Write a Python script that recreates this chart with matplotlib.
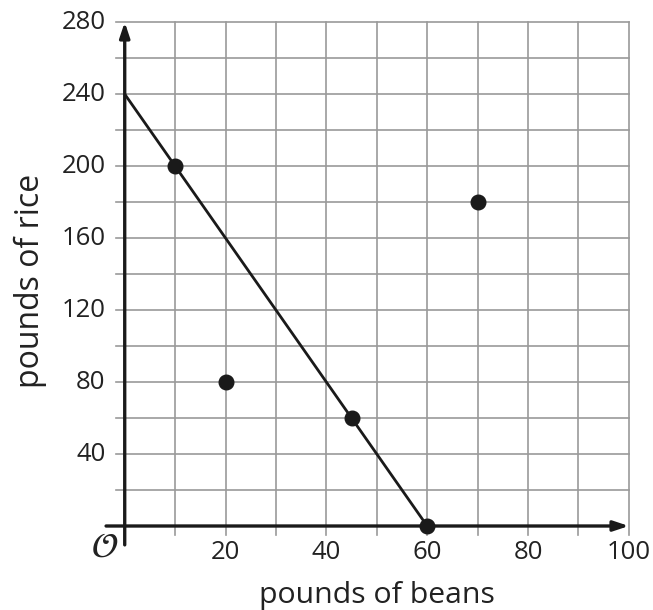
import matplotlib

matplotlib.use("Agg")
import matplotlib.pyplot as plt
import numpy as np

plt.rcParams["font.family"] = ["Open Sans", "DejaVu Sans"]

# data
beans = [10, 20, 45, 60, 70]
rice = [200, 80, 60, 0, 180]
line_x = [0, 60]
line_y = [240, 0]
x_ticks = [20, 40, 60, 80, 100]
y_ticks = [40, 80, 120, 160, 200, 240, 280]

GRID = "#9a9a9a"
DARK = "#1a1a1a"
TXT = "#222222"

fig = plt.figure(figsize=(6.53, 6.10), dpi=100, facecolor="white")
ax = fig.add_axes([0.191, 0.1377, 0.772, 0.826])
ax.set_xlim(0, 100)
ax.set_ylim(0, 280)
for s in ax.spines.values():
    s.set_visible(False)
ax.set_xticks([])
ax.set_yticks([])

# grid, slightly overhanging the axes like the original
for gx in np.arange(10, 101, 10):
    ax.plot([gx, gx], [-5, 280], color=GRID, lw=1.2, clip_on=False, zorder=1)
for gy in np.arange(20, 281, 20):
    ax.plot([-1.8, 100], [gy, gy], color=GRID, lw=1.2, clip_on=False, zorder=1)

# axes with arrows
ax.annotate("", xy=(100, 0), xytext=(-3.7, 0),
            arrowprops=dict(arrowstyle="-|>,head_length=0.9,head_width=0.3",
                            color=DARK, lw=2.4, shrinkA=0, shrinkB=0),
            annotation_clip=False, zorder=3)
ax.annotate("", xy=(0, 280), xytext=(0, -10.5),
            arrowprops=dict(arrowstyle="-|>,head_length=0.9,head_width=0.3",
                            color=DARK, lw=2.4, shrinkA=0, shrinkB=0),
            annotation_clip=False, zorder=3)

ax.plot(line_x, line_y, color=DARK, lw=2.0, zorder=4)
ax.plot(beans, rice, "o", color=DARK, ms=10.5, zorder=5, clip_on=False)

for t in x_ticks:
    ax.text(t, -8, str(t), ha="center", va="top", fontsize=18.5, color=TXT)
for t in y_ticks:
    ax.text(-3.8, t, str(t), ha="right", va="center", fontsize=18.5, color=TXT)
ax.text(-1.2, -2.5, r"$\mathcal{O}$", ha="right", va="top", fontsize=25, color=TXT)

fig.text(0.578, 0.024, "pounds of beans", ha="center", va="center",
         fontsize=21.8, color=TXT)
fig.text(0.047, 0.539, "pounds of rice", ha="center", va="center",
         rotation=90, fontsize=23, color=TXT)

fig.savefig("out.png", dpi=100)
